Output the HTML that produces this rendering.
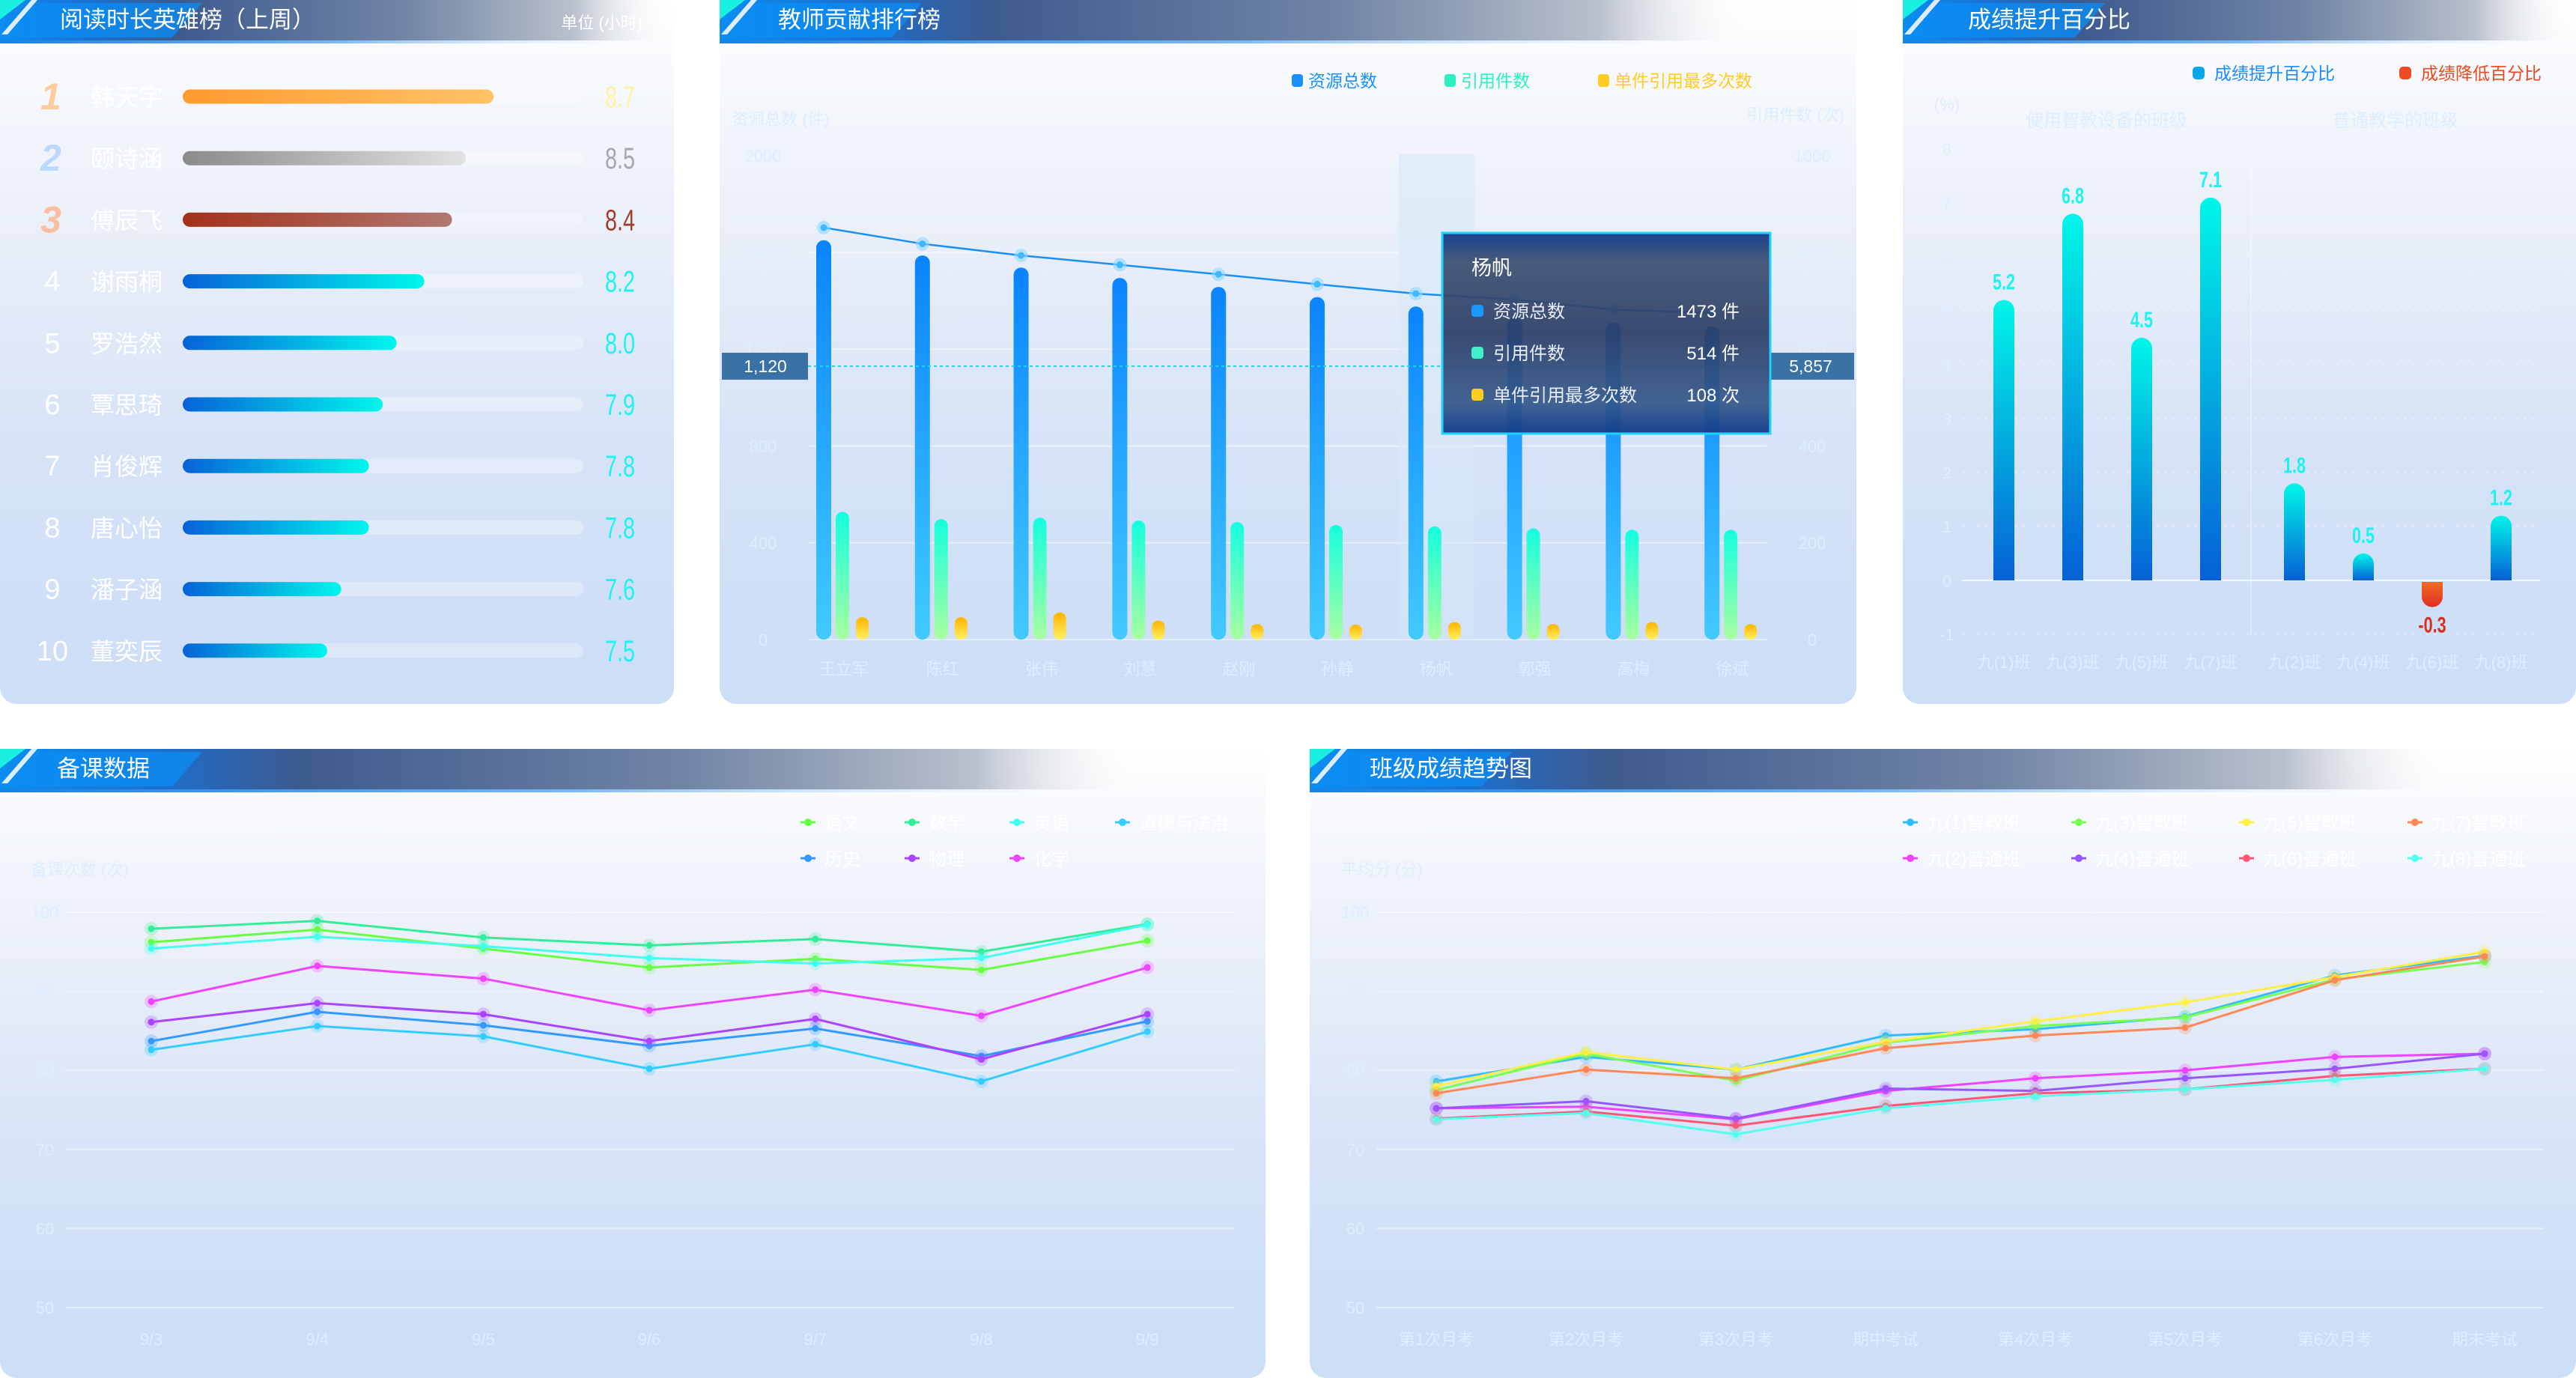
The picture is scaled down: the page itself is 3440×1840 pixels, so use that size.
<!DOCTYPE html>
<html><head><meta charset="utf-8">
<style>
body{margin:0;width:3440px;height:1840px;background:#fff;position:relative;overflow:hidden;font-family:"Liberation Sans","Noto Sans CJK SC",sans-serif;}
.panel{position:absolute;border-radius:0 0 22px 22px;background:linear-gradient(180deg,#ffffff 0%,#f6f8fc 12%,#e8eef8 35%,#d8e4f7 60%,#cedff7 85%,#cddef7 100%);}
svg{position:absolute;left:0;top:0;}
text{font-family:"Liberation Sans","Noto Sans CJK SC",sans-serif;}
</style></head>
<body>
<div class="panel" style="left:0;top:0;width:900px;height:940px;"></div>
<div class="panel" style="left:961px;top:0;width:1518px;height:940px;"></div>
<div class="panel" style="left:2541px;top:0;width:899px;height:940px;"></div>
<div class="panel" style="left:0;top:1000px;width:1690px;height:840px;"></div>
<div class="panel" style="left:1749px;top:1000px;width:1691px;height:840px;"></div>

<svg id="s" width="3440" height="1840">
<defs>
<linearGradient id="hdrG" x1="0" y1="0" x2="1" y2="0">
<stop offset="0" stop-color="#0a8df2"/><stop offset="0.13" stop-color="#1a70d2"/><stop offset="0.26" stop-color="#3d5a8f"/><stop offset="0.6" stop-color="#7185a5"/><stop offset="0.85" stop-color="#b9c0cc"/><stop offset="1" stop-color="#ffffff" stop-opacity="0"/>
</linearGradient>
<linearGradient id="ulG" x1="0" y1="0" x2="1" y2="0">
<stop offset="0" stop-color="#1e7fe0"/><stop offset="0.5" stop-color="#7ab8f0"/><stop offset="1" stop-color="#ffffff" stop-opacity="0"/>
</linearGradient>
<linearGradient id="gOr" x1="0" y1="0" x2="1" y2="0"><stop offset="0" stop-color="#ff9a30"/><stop offset="1" stop-color="#ffc266"/></linearGradient>
<linearGradient id="gGr" x1="0" y1="0" x2="1" y2="0"><stop offset="0" stop-color="#8a8a8a"/><stop offset="1" stop-color="#e2e2e2"/></linearGradient>
<linearGradient id="gBr" x1="0" y1="0" x2="1" y2="0"><stop offset="0" stop-color="#a3301a"/><stop offset="1" stop-color="#b07870"/></linearGradient>
<linearGradient id="gBl" x1="0" y1="0" x2="1" y2="0"><stop offset="0" stop-color="#0662d8"/><stop offset="1" stop-color="#00f7ec"/></linearGradient>
<linearGradient id="vBlue" x1="0" y1="0" x2="0" y2="1"><stop offset="0" stop-color="#0a84ff"/><stop offset="1" stop-color="#42caff"/></linearGradient>
<linearGradient id="vGreen" x1="0" y1="0" x2="0" y2="1"><stop offset="0" stop-color="#14ffe0"/><stop offset="1" stop-color="#a8ffa0"/></linearGradient>
<linearGradient id="vYel" x1="0" y1="0" x2="0" y2="1"><stop offset="0" stop-color="#ffb400"/><stop offset="1" stop-color="#fff060"/></linearGradient>
<linearGradient id="vCy" x1="0" y1="0" x2="0" y2="1"><stop offset="0" stop-color="#00f7e8"/><stop offset="1" stop-color="#0560d6"/></linearGradient>
<linearGradient id="vRed" x1="0" y1="0" x2="0" y2="1"><stop offset="0" stop-color="#f56a2a"/><stop offset="1" stop-color="#e0301e"/></linearGradient>
<linearGradient id="tipG" x1="0" y1="0" x2="0" y2="1">
<stop offset="0" stop-color="#123c8c" stop-opacity="0.96"/><stop offset="0.15" stop-color="#3c5070" stop-opacity="0.93"/><stop offset="0.5" stop-color="#2c3d66" stop-opacity="0.92"/><stop offset="0.85" stop-color="#34588a" stop-opacity="0.92"/><stop offset="1" stop-color="#123c8c" stop-opacity="0.96"/>
</linearGradient>
<linearGradient id="hl" x1="0" y1="0" x2="0" y2="1"><stop offset="0" stop-color="#dcebf8" stop-opacity="0.8"/><stop offset="1" stop-color="#d6e6f8" stop-opacity="0.5"/></linearGradient>
</defs>
</svg>

<script>
const NS='http://www.w3.org/2000/svg';
const svg=document.getElementById('s');
function mk(tag,attrs,parent){const e=document.createElementNS(NS,tag);for(const k in attrs)e.setAttribute(k,attrs[k]);(parent||svg).appendChild(e);return e;}
function tx(str,attrs,parent){const e=mk('text',attrs,parent);e.textContent=str;return e;}
const FAINT='#dceeff';

/* ---------- headers ---------- */
const headerTitles=['阅读时长英雄榜（上周）','教师贡献排行榜','成绩提升百分比','备课数据','班级成绩趋势图'];
const headerBoxes=[[0,0,900,80],[961,0,1380,78],[2541,0,899,87],[0,1000,1530,76],[1749,1000,1530,80]];
headerBoxes.forEach((b,i)=>{
  const g=mk('g',{});
  
  
  const [x,y,w,tx0]=b;
  const band=mk('rect',{x:x,y:y,width:w,height:54,fill:'url(#hdrG)'},g);
  
  
  const sl=mk('polygon',{points:`${x+8},${y+50} ${x+48},${y+4} ${x+270},${y+4} ${x+230},${y+50}`,fill:'#0b8ef4',opacity:0.75},g);
  
  
  const tri=mk('polygon',{points:`${x},${y} ${x+34},${y} ${x},${y+26}`,fill:'#19f0e0'},g);
  
  
  const st=mk('polygon',{points:`${x+2},${y+46} ${x+42},${y} ${x+50},${y} ${x+10},${y+46}`,fill:'#ffffff',opacity:0.85},g);
  
  
  const ul=mk('rect',{x:x,y:y+54,width:w,height:4,fill:'url(#ulG)'},g);
  
  
  const t=tx(headerTitles[i],{x:x+tx0,y:y+37,fill:'#ffffff','font-size':31},g);
  
  
});
const unit=tx('单位 (小时)',{x:858,y:38,fill:'#ffffff','font-size':22,'text-anchor':'end'});



/* ---------- panel 1: reading hero ranking ---------- */
const heroNames=['韩天宇','颐诗涵','傅辰飞','谢雨桐','罗浩然','覃思琦','肖俊辉','唐心怡','潘子涵','董奕辰'];
const heroHours=[8.7,8.5,8.4,8.2,8.0,7.9,7.8,7.8,7.6,7.5];
function heroLen(v){return 293+185*(v-8.04);}
const barFills=['url(#gOr)','url(#gGr)','url(#gBr)'];
const valColors=['#fff2a0','#a3a7b0','#a0402a'];
const rankColors=['#ffc890','#b8d6ff','#ffb898'];
heroNames.forEach((n,i)=>{
  const cy=129+i*82.2;
  const g=mk('g',{});
  
  
  let r;
  if(i<3){
    r=tx(String(i+1),{x:68,y:cy+17,fill:rankColors[i],'font-size':50,'font-weight':'bold','font-style':'italic','text-anchor':'middle',opacity:0.9},g);
  } else {
    r=tx(String(i+1),{x:70,y:cy+13,fill:'#ffffff','font-size':38,'text-anchor':'middle'},g);
  }
  
  
  const nm=tx(n,{x:121,y:cy+12,fill:'#ffffff','font-size':32},g);
  
  
  const tr=mk('rect',{x:244,y:cy-9.5,width:535,height:19,rx:9.5,fill:'#ffffff',opacity:0.3},g);
  
  
  const b=mk('rect',{x:244,y:cy-9.5,width:heroLen(heroHours[i]),height:19,rx:9.5,fill:i<3?barFills[i]:'url(#gBl)'},g);
  
  
  const v=tx(heroHours[i].toFixed(1),{transform:`translate(848,${cy+14}) scale(0.72,1)`,fill:i<3?valColors[i]:'#1ff2f0','font-size':40,'text-anchor':'end'},g);
  
  
});

/* ---------- panel 2: teacher contribution ---------- */
const teachers=['王立军','陈红','张伟','刘慧','赵刚','孙静','杨帆','郭强','高梅','徐斌'];
const resTotal=[1651,1588,1538,1495,1458,1416,1377,1334,1312,1295];
const citeCount=[264,249,252,246,243,237,234,230,227,227];
const maxCite=[46,46,56,39,32,31,36,32,36,32];
const lineVals=[1703,1636,1588,1549,1510,1469,1430,1406,1364,1351];
const leftTicks=[0,400,800,1200,1600,2000];
const rightTicks=[0,200,400,600,800,1000];
function yL(v){return 854-v/2000*646;}
function yR(v){return 854-v/1000*646;}
function cx2(i){return 1127+i*131.8;}
leftTicks.forEach((t,i)=>{
  const gl=mk('line',{x1:1081,x2:2360,y1:yL(t),y2:yL(t),stroke:'#ffffff','stroke-width':2,opacity:0.45});
  
  
  const lt=tx(String(t),{x:1019,y:yL(t)+8,fill:FAINT,'font-size':22,'text-anchor':'middle'});
  
  
  const rt=tx(String(rightTicks[i]),{x:2420,y:yR(rightTicks[i])+8,fill:FAINT,'font-size':22,'text-anchor':'middle'});
  
  
});
const lat=tx('资源总数 (件)',{x:977,y:167,fill:FAINT,'font-size':22});


const rat=tx('引用件数 (次)',{x:2463,y:161,fill:FAINT,'font-size':22,'text-anchor':'end'});


const hlc=mk('rect',{x:cx2(6)-50,y:206,width:101,height:648,fill:'url(#hl)'});


const leg2=[['资源总数','#1a90ff',1733],['引用件数','#2cf0c0',1937],['单件引用最多次数','#ffcc22',2142]];
leg2.forEach(l=>{
  const m=mk('rect',{x:l[2]-8,y:99,width:15,height:17,rx:4,fill:l[1]});
  
  
  const t=tx(l[0],{x:l[2]+14,y:116,fill:l[1],'font-size':23});
  
  
});
teachers.forEach((n,i)=>{
  const c=cx2(i);
  const b=mk('rect',{x:c-37,y:yL(resTotal[i]),width:20,height:854-yL(resTotal[i]),rx:10,fill:'url(#vBlue)'});
  
  
  const g=mk('rect',{x:c-11,y:yR(citeCount[i]),width:18,height:854-yR(citeCount[i]),rx:9,fill:'url(#vGreen)'});
  
  
  const y=mk('rect',{x:c+16,y:yR(maxCite[i]),width:17,height:854-yR(maxCite[i]),rx:8,fill:'url(#vYel)'});
  
  
  const l=tx(n,{x:c,y:901,fill:FAINT,'font-size':22,'text-anchor':'middle'});
  
  
});
const lp=mk('polyline',{points:lineVals.map((v,i)=>`${cx2(i)-27},${yL(v)}`).join(' '),fill:'none',stroke:'#1a90f0','stroke-width':2.5});


lineVals.forEach((v,i)=>{
  const h=mk('circle',{cx:cx2(i)-27,cy:yL(v),r:9,fill:'#8fd8ff',opacity:0.6});
  
  
  const p=mk('circle',{cx:cx2(i)-27,cy:yL(v),r:4.5,fill:'#40b8ff'});
  
  
});
const ml=mk('line',{x1:1079,x2:2361,y1:489,y2:489,stroke:'#18d8e8','stroke-width':2,'stroke-dasharray':'4,4'});


const mb1=mk('rect',{x:964,y:471,width:115,height:36,fill:'#3a72a6'});


const mt1=tx('1,120',{x:1022,y:497,fill:'#ffffff','font-size':23,'text-anchor':'middle'});


const mb2=mk('rect',{x:2361,y:471,width:115,height:36,fill:'#3a72a6'});


const mt2=tx('5,857',{x:2418,y:497,fill:'#ffffff','font-size':23,'text-anchor':'middle'});


/* tooltip */
const tip=mk('g',{});


const tb=mk('rect',{x:1926,y:311,width:438,height:268,fill:'url(#tipG)',stroke:'#1ed4ff','stroke-width':3},tip);


const tt=tx('杨帆',{x:1965,y:367,fill:'#ffffff','font-size':27},tip);


const tipRows=[['资源总数','1473 件','#1a98ff'],['引用件数','514 件','#40f0c8'],['单件引用最多次数','108 次','#ffcc22']];
tipRows.forEach((r,i)=>{
  const y=415+i*56;
  const m=mk('rect',{x:1965,y:y-8,width:16,height:16,rx:4,fill:r[2]},tip);
  
  
  const a=tx(r[0],{x:1994,y:y+9,fill:'#e8eef8','font-size':24},tip);
  
  
  const b=tx(r[1],{x:2323,y:y+9,fill:'#ffffff','font-size':24,'text-anchor':'end'},tip);
  
  
});

/* ---------- panel 3: score improvement ---------- */
const classes3=['九(1)班','九(3)班','九(5)班','九(7)班','九(2)班','九(4)班','九(6)班','九(8)班'];
const improve=[5.2,6.8,4.5,7.1,1.8,0.5,-0.3,1.2];
const ticks3=[-1,0,1,2,3,4,5,6,7,8];
function yP(v){return 775-v*72;}
const bx3=[2676,2768,2860,2952,3064,3156,3248,3340];
ticks3.forEach(t=>{
  const gl=mk('line',{x1:2620,x2:3392,y1:yP(t),y2:yP(t),stroke:'#ffffff','stroke-width':t===0?2:1.5,opacity:t===0?0.8:0.35,'stroke-dasharray':t===0?'':'4,6'});
  
  
  const l=tx(String(t),{x:2600,y:yP(t)+8,fill:FAINT,'font-size':22,'text-anchor':'middle'});
  
  
});
const dv=mk('line',{x1:3006,x2:3006,y1:210,y2:850,stroke:'#ffffff','stroke-width':1.5,opacity:0.4});


const pu=tx('(%)',{x:2600,y:147,fill:FAINT,'font-size':22,'text-anchor':'middle'});


const gt1=tx('使用智教设备的班级',{x:2813,y:169,fill:FAINT,'font-size':24,'text-anchor':'middle'});


const gt2=tx('普通教学的班级',{x:3199,y:169,fill:FAINT,'font-size':24,'text-anchor':'middle'});


const l3=[['成绩提升百分比','#1a8cff',2936,'#0aa8e8'],['成绩降低百分比','#e84a22',3212,'#f04a24']];
l3.forEach(l=>{
  const m=mk('rect',{x:l[2]-8,y:89,width:16,height:17,rx:5,fill:l[3]});
  
  
  const t=tx(l[0],{x:l[2]+21,y:106,fill:l[1],'font-size':23});
  
  
});
improve.forEach((v,i)=>{
  const x=bx3[i]-14;
  let b;
  if(v>=0){
    const top=yP(v);
    b=mk('path',{d:`M${x},${yP(0)} L${x},${top+14} A14,14 0 0 1 ${x+28},${top+14} L${x+28},${yP(0)} Z`,fill:'url(#vCy)'});
  } else {
    const bot=yP(v);
    b=mk('path',{d:`M${x},${yP(0)+2} L${x},${bot} A14,14 0 0 0 ${x+28},${bot} L${x+28},${yP(0)+2} Z`,fill:'url(#vRed)'});
  }
  
  
  const ly=v>=0?yP(v)-14:yP(v)+48;
  const lab=tx(v.toFixed(1),{transform:`translate(${bx3[i]},${ly}) scale(0.72,1)`,fill:v>=0?'#1ff2f0':'#d8301e','font-size':30,'font-weight':'bold','text-anchor':'middle'});
  
  
  const c=tx(classes3[i],{x:bx3[i],y:892,fill:FAINT,'font-size':22,'text-anchor':'middle'});
  
  
});

/* ---------- line chart helper ---------- */
function lineChart(cfg){
  cfg.ticks.forEach(t=>{
    const y=cfg.y(t);
    const gl=mk('line',{x1:cfg.x0,x2:cfg.x1,y1:y,y2:y,stroke:'#ffffff','stroke-width':2,opacity:0.45});
    
    
    const l=tx(String(t),{x:cfg.labX,y:y+8,fill:FAINT,'font-size':22,'text-anchor':'middle'});
    
    
  });
  cfg.cats.forEach((c,i)=>{
    const l=tx(c,{x:cfg.x(i),y:1796,fill:FAINT,'font-size':22,'text-anchor':'middle'});
    
    
  });
  cfg.series.forEach((s,si)=>{
    const col=cfg.colors[si];
    const pl=mk('polyline',{points:s.map((v,i)=>`${cfg.x(i)},${cfg.y(v)}`).join(' '),fill:'none',stroke:col,'stroke-width':3});
    
    
    s.forEach((v,i)=>{
      const h=mk('circle',{cx:cfg.x(i),cy:cfg.y(v),r:9,fill:col,opacity:0.25});
      
      
      const p=mk('circle',{cx:cfg.x(i),cy:cfg.y(v),r:4.5,fill:col});
      
      
    });
    const lx=cfg.legX[si%4], ly=si<4?1098:1146;
    const lm=mk('line',{x1:lx-10,x2:lx+10,y1:ly,y2:ly,stroke:col,'stroke-width':3});
    
    
    const lc=mk('circle',{cx:lx,cy:ly,r:5,fill:col});
    
    
    const lt=tx(cfg.names[si],{x:lx+22,y:ly+9,fill:'#ffffff','font-size':24});
    
    
  });
}

/* ---------- panel 4: lesson prep ---------- */
const prepDays=['9/3','9/4','9/5','9/6','9/7','9/8','9/9'];
const prepNames=['语文','数学','英语','道德与法治','历史','物理','化学'];
const prepTicks=[50,60,70,80,90,100];
const prepChinese=[96.2,97.8,95.4,93.0,94.1,92.7,96.4];
const prepMath=[97.9,98.9,96.8,95.8,96.6,95.0,98.5];
const prepEnglish=[95.4,96.9,95.7,94.2,93.5,94.2,98.4];
const prepMoral=[82.6,85.6,84.3,80.2,83.3,78.6,84.9];
const prepHistory=[83.7,87.4,85.7,83.1,85.3,81.8,86.2];
const prepPhysics=[86.1,88.5,87.1,83.7,86.5,81.4,87.1];
const prepChem=[88.7,93.2,91.6,87.6,90.2,86.9,93.0];
const at4=tx('备课次数 (次)',{x:41,y:1169,fill:FAINT,'font-size':22});


lineChart({cats:prepDays,ticks:prepTicks,names:prepNames,
  series:[prepChinese,prepMath,prepEnglish,prepMoral,prepHistory,prepPhysics,prepChem],
  colors:['#66ff44','#33ee99','#44fff0','#33ccff','#3399ff','#aa44ff','#ee44ff'],
  x:i=>202+i*221.7, y:v=>1218+(100-v)*10.56, x0:87,x1:1649,labX:60,legX:[1079,1218,1358,1499]});

/* ---------- panel 5: class trend ---------- */
const exams=['第1次月考','第2次月考','第3次月考','期中考试','第4次月考','第5次月考','第6次月考','期末考试'];
const classNames=['九(1)智教班','九(3)智教班','九(5)智教班','九(7)智教班','九(2)普通班','九(4)普通班','九(6)普通班','九(8)普通班'];
const trendTicks=[50,60,70,80,90,100];
const c1=[78.6,81.7,80.1,84.4,85.2,86.8,92.0,94.5];
const c3=[77.5,82.1,78.7,83.5,85.6,86.7,91.5,93.7];
const c5=[78.0,82.3,80.1,83.6,86.2,88.6,91.8,95.0];
const c7=[77.1,80.1,79.0,82.8,84.4,85.4,91.4,94.4];
const c2=[75.2,75.4,73.8,77.4,79.0,80.0,81.7,82.1];
const c4=[75.2,76.1,73.9,77.7,77.4,79.0,80.2,82.1];
const c6=[73.9,74.8,73.0,75.5,77.1,77.6,79.3,80.2];
const c8=[73.8,74.6,71.9,75.2,76.7,77.6,78.8,80.2];
const at5=tx('平均分 (分)',{x:1791,y:1169,fill:FAINT,'font-size':22});


lineChart({cats:exams,ticks:trendTicks,names:classNames,
  series:[c1,c3,c5,c7,c2,c4,c6,c8],
  colors:['#33bbff','#77ff55','#ffee44','#ff8855','#ee44ff','#9955ff','#ff5577','#55ffee'],
  x:i=>1918+i*200, y:v=>1218+(100-v)*10.56, x0:1838,x1:3397,labX:1810,legX:[2551,2776,3000,3225]});
</script>
</body></html>
